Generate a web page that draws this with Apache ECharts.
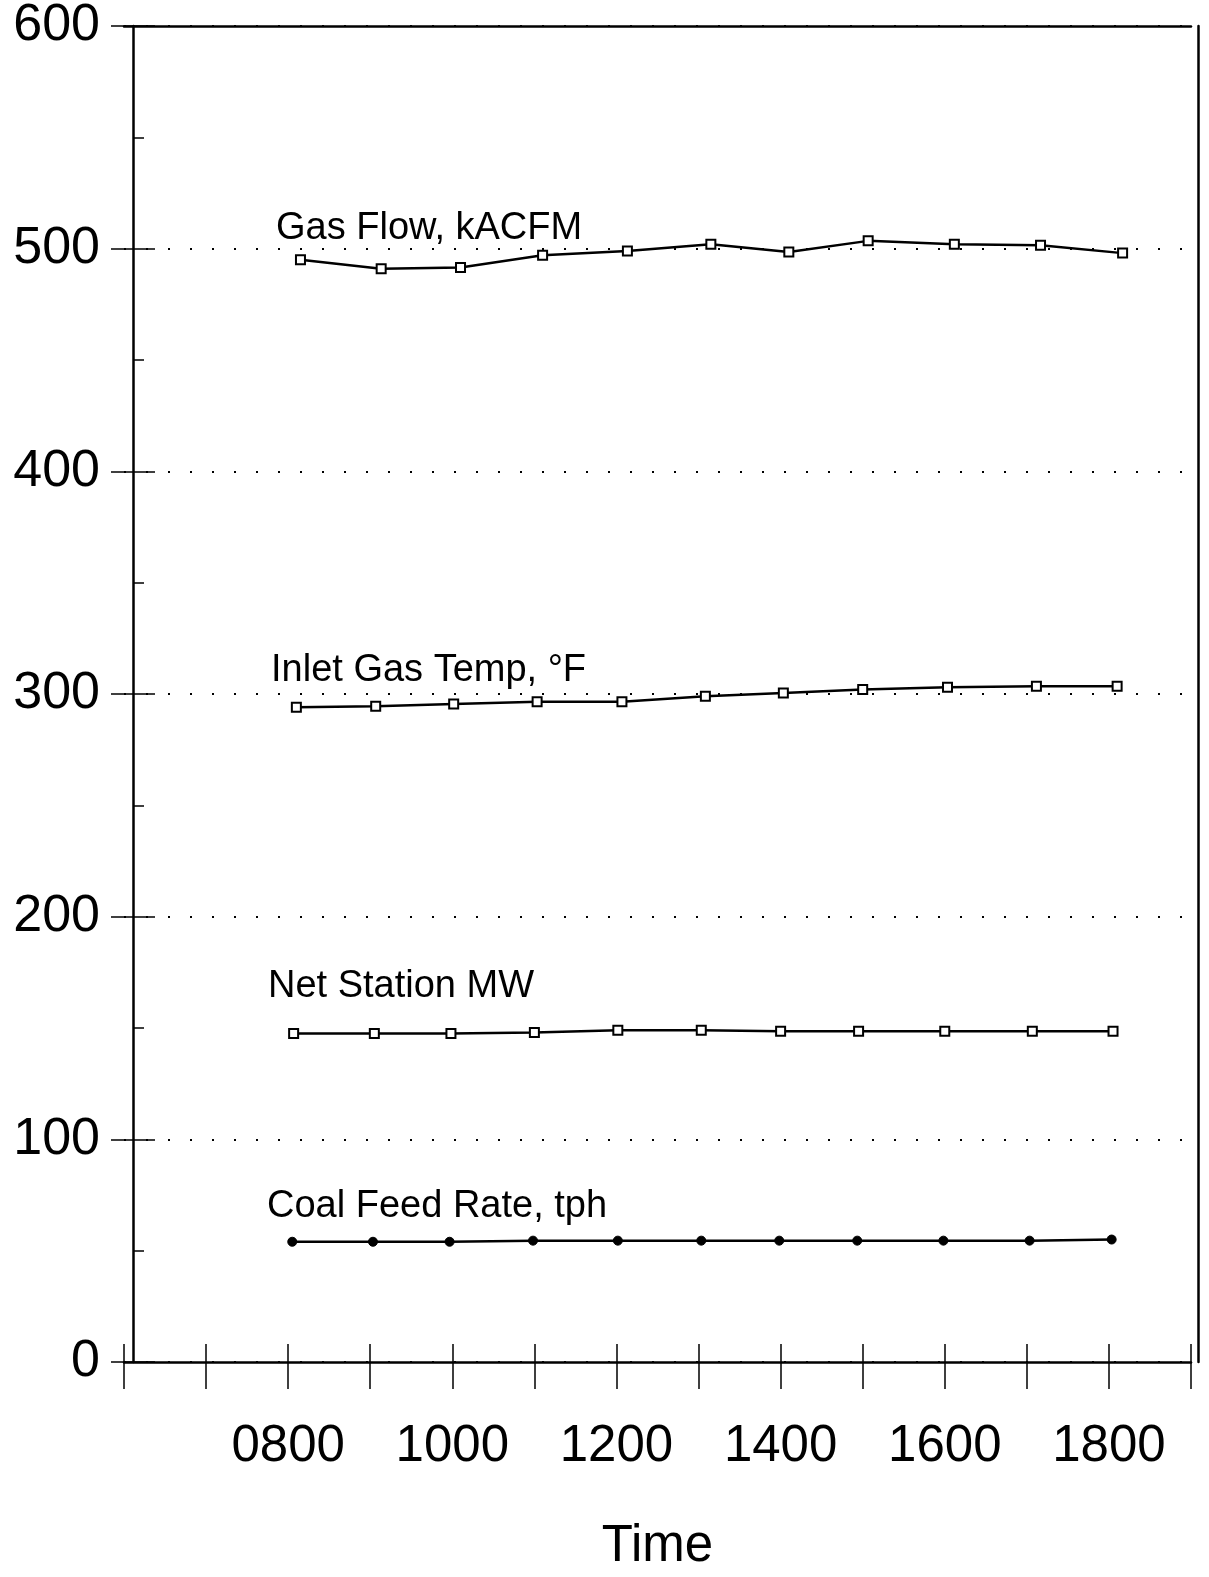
<!DOCTYPE html>
<html>
<head>
<meta charset="utf-8">
<script src="https://cdn.jsdelivr.net/npm/echarts@6/dist/echarts.min.js"></script>
<style>
  html, body { margin: 0; padding: 0; background: #fff; }
  #chart { width: 1209px; height: 1577px; }
</style>
</head>
<body>
<div id="chart"></div>
<script>
// ---- Data (times of reading) ----
const gasFlowTimes   = ['08:09','09:08','10:06','11:06','12:08','13:09','14:06','15:04','16:07','17:10','18:10'];
const gasFlowValues  = [495, 491, 491.5, 497, 499, 502, 498.5, 503.5, 502, 501.5, 498];

const inletTempTimes  = ['08:06','09:04','10:01','11:02','12:04','13:05','14:02','15:00','16:02','17:07','18:06'];
const inletTempValues = [294, 294.5, 295.5, 296.5, 296.5, 299, 300.5, 302, 303, 303.5, 303.5];

const netMWTimes  = ['08:04','09:03','09:59','11:00','12:01','13:02','14:00','14:57','16:00','17:04','18:03'];
const netMWValues = [147.5, 147.5, 147.5, 148, 149, 149, 148.5, 148.5, 148.5, 148.5, 148.5];

const coalTimes  = ['08:03','09:02','09:58','10:59','12:01','13:02','13:59','14:56','15:59','17:02','18:02'];
const coalValues = [54, 54, 54, 54.5, 54.5, 54.5, 54.5, 54.5, 54.5, 54.5, 55];

const seriesNames = ['Gas Flow, kACFM', 'Inlet Gas Temp, °F', 'Net Station MW', 'Coal Feed Rate, tph'];
const xLabelHours = [8, 10, 12, 14, 16, 18];
const yTicks = [0, 100, 200, 300, 400, 500, 600];

function toHours(t) { const [h, m] = t.split(':').map(Number); return h + m / 60; }
function pairs(times, vals) { return times.map((t, i) => [toHours(t), vals[i]]); }

const FONT = '"Liberation Sans", Arial, Helvetica, sans-serif';
const chart = echarts.init(document.getElementById('chart'), null, { renderer: 'canvas' });

const xMin = 6, xMax = 19;
const hollow = { color: '#fff', borderColor: '#000', borderWidth: 2 };

function lineSeries(name, data, filled) {
  return {
    name, type: 'line', data, xAxisIndex: 0, yAxisIndex: 0,
    symbol: filled ? 'circle' : 'rect',
    symbolSize: 9,
    lineStyle: { color: '#000', width: 2.5 },
    itemStyle: filled ? { color: '#000', borderColor: '#000', borderWidth: 1 } : hollow,
    emphasis: { disabled: true },
    z: 5
  };
}

const option = {
  animation: false,
  backgroundColor: '#fff',
  grid: { left: 124, right: 18, top: 26, bottom: 201, containLabel: false },
  xAxis: [
    {
      type: 'value', min: xMin, max: xMax, interval: 1, position: 'bottom',
      axisLine: { show: true, onZero: false, lineStyle: { color: '#000', width: 2.5 } },
      axisTick: { show: true, inside: false, length: 27, lineStyle: { color: '#000', width: 1.5 } },
      axisLabel: {
        show: true, margin: 59, fontSize: 51, fontFamily: FONT, color: '#000',
        formatter: v => xLabelHours.includes(v) ? String(v).padStart(2, '0') + '00' : ''
      },
      splitLine: { show: false },
      name: 'Time', nameLocation: 'middle', nameGap: 159,
      nameTextStyle: { fontSize: 51, fontFamily: FONT, color: '#000' }
    },
    {
      type: 'value', min: xMin, max: xMax, interval: 1, position: 'bottom',
      axisLine: { show: false }, axisLabel: { show: false }, splitLine: { show: false },
      axisTick: { show: true, inside: true, length: 18, lineStyle: { color: '#000', width: 1.5 } }
    },
    {
      type: 'value', min: xMin, max: xMax, position: 'top',
      axisLine: { show: true, onZero: false, lineStyle: { color: '#000', width: 2.5 } },
      axisTick: { show: false }, axisLabel: { show: false }, splitLine: { show: false }
    }
  ],
  yAxis: [
    {
      type: 'value', min: 0, max: 600, interval: 100, position: 'left', offset: -9,
      axisLine: { show: true, onZero: false, lineStyle: { color: '#000', width: 2.5 } },
      axisTick: { show: true, inside: false, length: 22, lineStyle: { color: '#000', width: 1.5 } },
      axisLabel: {
        show: true, margin: 33, fontSize: 52, fontFamily: FONT, color: '#000',
        formatter: v => yTicks.includes(v) ? String(v) : ''
      },
      splitLine: { show: true, lineStyle: { color: '#000', width: 2, type: [2, 20] } }
    },
    {
      type: 'value', min: 0, max: 600, interval: 100, position: 'left', offset: -9,
      axisLine: { show: false }, axisLabel: { show: false }, splitLine: { show: false },
      axisTick: { show: true, inside: true, length: 22, lineStyle: { color: '#000', width: 1.5 } },
      minorTick: { show: true, splitNumber: 2, length: 11, lineStyle: { color: '#000', width: 1.5 } }
    },
    {
      type: 'value', min: 0, max: 600, position: 'right', offset: 7,
      axisLine: { show: true, onZero: false, lineStyle: { color: '#000', width: 2.5 } },
      axisTick: { show: false }, axisLabel: { show: false }, splitLine: { show: false }
    }
  ],
  series: [
    lineSeries(seriesNames[0], pairs(gasFlowTimes, gasFlowValues), false),
    lineSeries(seriesNames[1], pairs(inletTempTimes, inletTempValues), false),
    lineSeries(seriesNames[2], pairs(netMWTimes, netMWValues), false),
    lineSeries(seriesNames[3], pairs(coalTimes, coalValues), true)
  ],
  graphic: [
    { type: 'text', left: 276, top: 210, style: { text: seriesNames[0], fontSize: 38, fontFamily: FONT, fill: '#000' } },
    { type: 'text', left: 271, top: 652, style: { text: seriesNames[1], fontSize: 38, fontFamily: FONT, fill: '#000' } },
    { type: 'text', left: 268, top: 968, style: { text: seriesNames[2], fontSize: 38, fontFamily: FONT, fill: '#000' } },
    { type: 'text', left: 267, top: 1188, style: { text: seriesNames[3], fontSize: 38, fontFamily: FONT, fill: '#000' } }
  ]
};
chart.setOption(option);
</script>
</body>
</html>
